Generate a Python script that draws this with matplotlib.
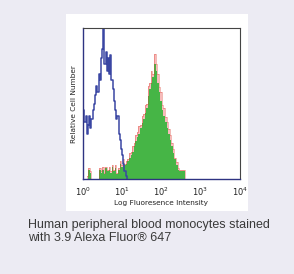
import numpy as np
import matplotlib
matplotlib.use('Agg')
import matplotlib.pyplot as plt
from matplotlib.patches import Rectangle

# log10 bin positions and relative heights
blue_log = [0.00, 0.03, 0.06, 0.09, 0.12, 0.15, 0.18, 0.21, 0.24, 0.27,
            0.30, 0.33, 0.36, 0.39, 0.42, 0.45, 0.48, 0.51, 0.54, 0.57,
            0.60, 0.63, 0.66, 0.69, 0.72, 0.75, 0.78, 0.81, 0.84, 0.87,
            0.90, 0.93, 0.96, 0.99, 1.02, 1.05, 1.08, 1.11, 1.14]
blue_h = [0.36, 0.46, 0.38, 0.42, 0.30, 0.36, 0.42, 0.34, 0.40, 0.46,
          0.50, 0.56, 0.62, 0.58, 0.70, 0.66, 0.80, 0.86, 1.00, 0.76,
          0.84, 0.72, 0.80, 0.70, 0.82, 0.66, 0.60, 0.52, 0.46, 0.40,
          0.42, 0.30, 0.26, 0.20, 0.16, 0.10, 0.05, 0.02, 0.00]

stain_log = [0.12, 0.16, 0.20, 0.24, 0.28, 0.32, 0.36, 0.40, 0.44, 0.48,
             0.52, 0.56, 0.60, 0.64, 0.68, 0.72, 0.76, 0.80, 0.84, 0.88,
             0.92, 0.96, 1.00, 1.04, 1.08, 1.12, 1.16, 1.20, 1.24, 1.28,
             1.32, 1.36, 1.40, 1.44, 1.48, 1.52, 1.56, 1.60, 1.64, 1.68,
             1.72, 1.76, 1.80, 1.84, 1.88, 1.92, 1.96, 2.00, 2.04, 2.08,
             2.12, 2.16, 2.20, 2.24, 2.28, 2.32, 2.36, 2.40, 2.44, 2.48,
             2.52, 2.56, 2.60, 2.64]
green_h = [0.00, 0.06, 0.04, 0.00, 0.00, 0.00, 0.00, 0.00, 0.06, 0.04,
           0.06, 0.03, 0.07, 0.05, 0.06, 0.04, 0.08, 0.05, 0.07, 0.03,
           0.06, 0.10, 0.08, 0.11, 0.09, 0.10, 0.12, 0.14, 0.16, 0.18,
           0.22, 0.25, 0.28, 0.30, 0.34, 0.37, 0.40, 0.44, 0.47, 0.55,
           0.60, 0.64, 0.68, 0.76, 0.72, 0.64, 0.58, 0.52, 0.46, 0.42,
           0.38, 0.34, 0.30, 0.26, 0.22, 0.17, 0.13, 0.09, 0.06, 0.05,
           0.05, 0.05, 0.05, 0.00]
red_h = [0.02, 0.07, 0.05, 0.00, 0.00, 0.00, 0.00, 0.00, 0.07, 0.05,
         0.08, 0.04, 0.08, 0.06, 0.08, 0.05, 0.09, 0.06, 0.09, 0.04,
         0.07, 0.12, 0.09, 0.13, 0.10, 0.12, 0.13, 0.17, 0.18, 0.22,
         0.24, 0.29, 0.31, 0.35, 0.36, 0.42, 0.43, 0.49, 0.50, 0.62,
         0.64, 0.72, 0.70, 0.83, 0.76, 0.70, 0.61, 0.58, 0.49, 0.47,
         0.41, 0.38, 0.33, 0.29, 0.24, 0.20, 0.14, 0.11, 0.07, 0.06,
         0.06, 0.06, 0.06, 0.00]

x_ticks = [1, 10, 100, 1000, 10000]
x_ticklabels = ['$10^0$', '$10^1$', '$10^2$', '$10^3$', '$10^4$']

fig = plt.figure(figsize=(2.94, 2.74), dpi=100)
fig.patch.set_facecolor('#ecebf3')

# white card behind the plot
fig.add_artist(Rectangle((0.2245, 0.23), 0.619, 0.719, transform=fig.transFigure,
                         facecolor='white', edgecolor='none', zorder=-5))

ax = fig.add_axes([0.281, 0.3467, 0.534, 0.55])
ax.set_zorder(2)
ax.set_facecolor('white')

bx = 10 ** np.array(blue_log)
sx = 10 ** np.array(stain_log)

ax.fill_between(sx, red_h, step='mid', color='#f5a3a3', alpha=0.75, lw=0)
ax.fill_between(sx, green_h, step='mid', color='#46b546', lw=0)
ax.step(sx, red_h, where='mid', color='#d93a2c', lw=0.5, alpha=0.5)
ax.step(bx, blue_h, where='mid', color='#3a46a3', lw=1.1)

ax.set_xscale('log')
ax.set_xlim(1, 10000)
ax.set_ylim(0, 1.0)
ax.set_xticks(x_ticks)
ax.set_xticklabels(x_ticklabels, fontsize=6)
ax.minorticks_off()
ax.set_yticks([])
ax.tick_params(axis='x', length=0, pad=5, colors='#222222')
ax.set_xlabel('Log Fluoresence Intensity', fontsize=5.3, labelpad=1, color='#222222')
ax.set_ylabel('Relative Cell Number', fontsize=5.3, labelpad=4, color='#222222')

for side in ['top', 'right']:
    ax.spines[side].set_color('#444444')
    ax.spines[side].set_linewidth(0.8)
for side in ['left', 'bottom']:
    ax.spines[side].set_color('#2e3382')
    ax.spines[side].set_linewidth(1.0)

fig.text(0.095, 0.11, 'Human peripheral blood monocytes stained\nwith 3.9 Alexa Fluor\u00ae 647',
         family='Liberation Sans', fontsize=9, color='#3a3a3a', va='bottom', linespacing=1.1)

fig.savefig('out.png', dpi=100, facecolor=fig.get_facecolor())
